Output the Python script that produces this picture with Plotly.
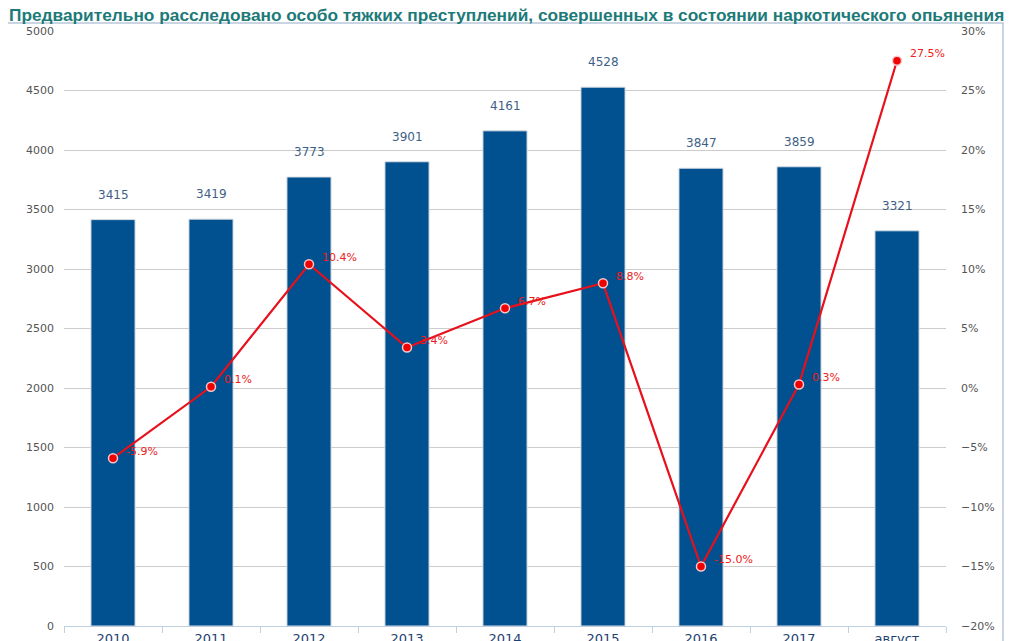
import plotly.graph_objects as go

categories = ["2010", "2011", "2012", "2013", "2014", "2015", "2016", "2017", "август"]
counts = [3415, 3419, 3773, 3901, 4161, 4528, 3847, 3859, 3321]
growth_pct = [-5.9, 0.1, 10.4, 3.4, 6.7, 8.8, -15.0, 0.3, 27.5]
title_text = "Предварительно расследовано особо тяжких преступлений, совершенных в состоянии наркотического опьянения"

# page body has an 8px margin: the figure starts at window (8, 8)
OFF = 8
WIN_W, WIN_H = 1013, 641
W, H = WIN_W - OFF, WIN_H - OFF
# target plot area in window pixels
PX0, PX1, PY0, PY1 = 64, 946, 31, 626
L, R, T, B = PX0 - OFF, W - (PX1 - OFF), PY0 - OFF, H - (PY1 - OFF)
pw, ph = W - L - R, H - T - B

def px_x(p):
    return (p - OFF - L) / pw

def px_y(p):
    return (H - B - (p - OFF)) / ph

fig = go.Figure()
fig.add_trace(go.Bar(
    x=categories, y=counts, name="count",
    marker=dict(color="#01508f", line=dict(color="#d8dde3", width=1)),
    yaxis="y",
))
fig.add_trace(go.Scatter(
    x=categories, y=growth_pct, name="pct", mode="lines+markers",
    line=dict(color="#e8101a", width=2.2),
    marker=dict(color="#f00000", size=9, line=dict(color="#f4c8cc", width=1.5)),
    yaxis="y2", cliponaxis=False,
))

annotations = []
for i, v in enumerate(counts):
    annotations.append(dict(
        x=i, y=v, xref="x", yref="y", text=str(v), showarrow=False,
        xanchor="center", yanchor="bottom", yshift=16,
        font=dict(family="DejaVu Sans", size=12, color="#3f5f86"),
    ))
for i, v in enumerate(growth_pct):
    annotations.append(dict(
        x=i, y=v, xref="x", yref="y2", text=f"{v:.1f}%", showarrow=False,
        xanchor="left", yanchor="middle", xshift=11, yshift=7,
        font=dict(family="DejaVu Sans", size=11, color="#ee2020"),
    ))
annotations.append(dict(
    x=px_x(7), y=px_y(15), xref="paper", yref="paper", text=f"<b>{title_text}</b>",
    showarrow=False, xanchor="left", yanchor="middle",
    font=dict(family="Liberation Sans, sans-serif", size=17.3, color="#1c7a78"),
))

fig.update_layout(
    width=W, height=H,
    margin=dict(l=L, r=R, t=T, b=B, autoexpand=False),
    paper_bgcolor="white", plot_bgcolor="white",
    showlegend=False, bargap=0.55,
    annotations=annotations,
    shapes=[dict(type="rect", xref="paper", yref="paper",
                 x0=px_x(5), x1=px_x(1003), y0=px_y(700), y1=px_y(23),
                 line=dict(color="#b8c8da", width=1.5), layer="below")],
    xaxis=dict(
        type="category", range=[-0.5, len(categories) - 0.5],
        showgrid=False, showline=True, linecolor="#c0cfe0",
        ticks="outside", tickson="boundaries", ticklen=6, tickcolor="#c0cfe0",
        tickfont=dict(family="DejaVu Sans", size=13, color="#1d3f70"),
        automargin=False, fixedrange=True,
    ),
    yaxis=dict(
        range=[0, 5000], dtick=500, showgrid=True, gridcolor="#cccccc", gridwidth=1,
        zeroline=False, showline=False, ticks="", ticklabelstandoff=9,
        tickfont=dict(family="DejaVu Sans", size=11, color="#555555"),
        automargin=False,
    ),
    yaxis2=dict(
        range=[-20, 30], dtick=5, overlaying="y", side="right", showgrid=False,
        zeroline=False, ticksuffix="%", ticks="", ticklabelstandoff=14,
        tickfont=dict(family="DejaVu Sans", size=11, color="#555555"),
        automargin=False,
    ),
)

fig.write_html("out.html")
